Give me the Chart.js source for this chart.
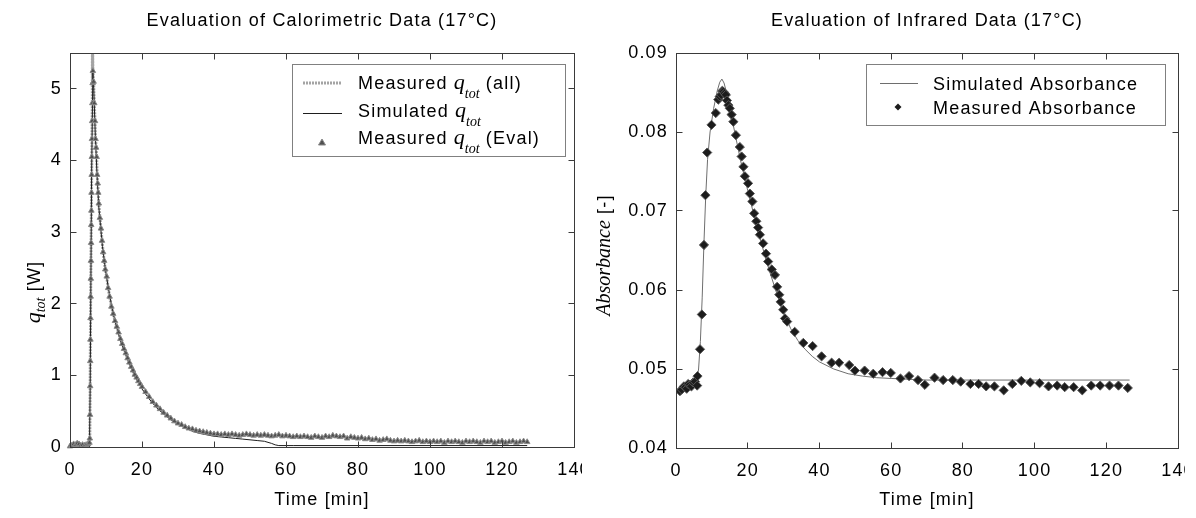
<!DOCTYPE html>
<html>
<head>
<meta charset="utf-8">
<script src="https://cdn.jsdelivr.net/npm/chart.js@4.4.1/dist/chart.umd.min.js"></script>
<style>
  html, body { margin: 0; padding: 0; background: #fff; width: 1196px; height: 518px; overflow: hidden; }
  .panel { position: absolute; top: 0; height: 518px; overflow: hidden; }
  #calPanel { left: 0; width: 582px; }
  #irPanel { left: 588px; width: 597px; }
</style>
</head>
<body>
<div class="panel" id="calPanel"><canvas id="calChart" width="584" height="518"></canvas></div>
<div class="panel" id="irPanel"><canvas id="irChart" width="598" height="518"></canvas></div>
<script>
// ---- axis ticks ----
const timeTicks = [0, 20, 40, 60, 80, 100, 120, 140];
const calTicks = [0, 1, 2, 3, 4, 5];
const irTicks = [0.04, 0.05, 0.06, 0.07, 0.08, 0.09];

// ---- calorimetric data: time [min], heat flow q_tot [W] ----
const calTime = [
  0, 0.5, 1, 1.5, 2, 2.5, 3, 3.5, 4, 4.5, 5, 5.4,
  5.5, 5.55, 5.6, 5.63, 5.67, 5.7, 5.74, 5.78, 5.82, 5.86,
  5.9, 5.94, 5.98, 6.02, 6.06, 6.1, 6.15, 6.2, 6.28, 6.35,
  6.55, 6.75, 6.95, 7.1, 7.25, 7.4, 7.55, 7.7, 7.85, 8.0,
  8.3, 8.6, 8.9, 9.2, 9.5, 9.8, 10.2, 10.6, 11, 11.5,
  12, 12.5, 13, 13.5, 14, 14.5, 15, 15.5, 16, 16.5,
  17, 17.5, 18, 18.5, 19, 19.5, 20,
  21, 22, 23, 24, 25, 26, 27, 28, 29, 30, 31, 32, 33, 34, 35, 36, 37, 38, 39,
  40, 41, 42, 43, 44, 45, 46, 47, 48, 49,
  50, 51, 52, 53, 54, 55, 56, 57, 58, 59,
  60, 61, 62, 63, 64, 65, 66, 67, 68, 69,
  70, 71, 72, 73, 74, 75, 76, 77, 78, 79,
  80, 81, 82, 83, 84, 85, 86, 87, 88, 89,
  90, 91, 92, 93, 94, 95, 96, 97, 98, 99,
  100, 101, 102, 103, 104, 105, 106, 107, 108, 109,
  110, 111, 112, 113, 114, 115, 116, 117, 118, 119,
  120, 121, 122, 123, 124, 125, 126, 127
];
const calMeasured = [
  0.01, 0.02, 0.04, 0.03, 0.05, 0.04, 0.02, 0.03, 0.02, 0.03, 0.04, 0.06,
  0.12, 0.45, 0.85, 1.2, 1.5, 1.8, 2.1, 2.35, 2.6, 2.85,
  3.1, 3.3, 3.55, 3.8, 4.05, 4.3, 4.55, 4.8, 5.08, 5.25,
  5.1, 4.8, 4.55, 4.3, 4.18, 4.05, 3.8, 3.68, 3.55, 3.4,
  3.2, 3.05, 2.88, 2.72, 2.6, 2.48, 2.38, 2.22, 2.1, 1.96,
  1.86, 1.76, 1.68, 1.6, 1.51, 1.44, 1.37, 1.31, 1.24, 1.18,
  1.12, 1.07, 1.01, 0.97, 0.92, 0.88, 0.84,
  0.77, 0.70, 0.63, 0.58, 0.53, 0.48, 0.44, 0.40, 0.36, 0.33, 0.31, 0.28, 0.26, 0.25, 0.23, 0.22, 0.21, 0.20, 0.19,
  0.18, 0.18, 0.17, 0.18, 0.17, 0.18, 0.17, 0.16, 0.17, 0.18,
  0.17, 0.16, 0.17, 0.16, 0.17, 0.16, 0.15, 0.16, 0.17, 0.15,
  0.16, 0.15, 0.14, 0.15, 0.14, 0.15, 0.14, 0.13, 0.15, 0.14,
  0.13, 0.15, 0.14, 0.16, 0.15, 0.14, 0.15, 0.12, 0.14, 0.13,
  0.12, 0.13, 0.11, 0.12, 0.10, 0.11, 0.09, 0.10, 0.11, 0.09,
  0.08, 0.09, 0.08, 0.09, 0.08, 0.07, 0.08, 0.09, 0.07, 0.08,
  0.07, 0.08, 0.07, 0.08, 0.06, 0.08, 0.07, 0.08, 0.07, 0.06,
  0.08, 0.07, 0.08, 0.07, 0.06, 0.08, 0.07, 0.08, 0.06, 0.07,
  0.08, 0.06, 0.07, 0.08, 0.06, 0.07, 0.08, 0.07
];
// raw samples at the heat-flow maximum that were not used for the evaluation
const calPeakTime = [6.22, 6.3];
const calPeakQ = [5.62, 5.48];

// simulated heat flow
const calSimTime = [0, 5.4, 5.6, 6.0, 6.35, 6.6, 7.0, 7.5, 8.0, 9, 10, 11, 12, 13, 14, 15, 16,
  18, 20, 22, 24, 26, 28, 30, 32, 34, 36, 38, 40, 42, 44, 46, 48, 50, 52, 54, 56,
  57, 58, 62, 70, 80, 90, 100, 110, 120, 127];
const calSimQ = [0.0, 0.0, 0.8, 3.8, 5.22, 5.0, 4.4, 3.8, 3.35, 2.8, 2.42, 2.12, 1.86, 1.66, 1.49, 1.35, 1.22,
  0.99, 0.81, 0.67, 0.55, 0.46, 0.38, 0.32, 0.27, 0.22, 0.19, 0.17, 0.15, 0.14, 0.13, 0.12, 0.11, 0.10, 0.09, 0.08, 0.05,
  0.03, 0.02, 0.02, 0.02, 0.02, 0.02, 0.02, 0.02, 0.02, 0.02];

// ---- infrared data: time [min], absorbance [-] ----
const irTime = [1.1, 1.6, 2.2, 2.6, 3.0, 3.4, 3.9, 4.3, 4.8, 5.3,
  5.9, 6.0, 6.7, 7.2, 7.8, 8.2, 8.7, 9.9, 11.1, 11.8,
  12.2, 12.6, 12.9, 13.2, 13.6, 13.9, 14.2, 14.6, 15.0, 15.5,
  16.0, 16.7, 17.8, 18.3, 18.8, 19.2, 20.1, 20.6, 21.3, 21.8,
  22.4, 22.9, 23.4, 24.3, 25.1, 25.7, 26.7, 27.6, 28.2, 28.8,
  29.2, 29.9, 30.4, 31.0, 33.1, 35.5, 38.1, 40.6, 43.4, 45.5,
  48.3, 49.9, 52.6, 55.0, 57.6, 59.9, 62.6, 65.0, 67.5, 69.4,
  72.1, 74.5, 77.2, 79.4, 82.1, 84.4, 86.5, 88.8, 91.4, 93.8,
  96.3, 98.8, 101.4, 103.9, 106.3, 108.4, 110.9, 113.3, 115.8, 118.3,
  120.9, 123.4, 126.0];
const irMeasured = [0.0472, 0.0474, 0.0478, 0.0477, 0.0475, 0.0481, 0.0480, 0.0478, 0.0483, 0.0484,
  0.0479, 0.0491, 0.0525, 0.0569, 0.0657, 0.0720, 0.0774, 0.0809, 0.0824, 0.0841,
  0.0845, 0.0847, 0.0852, 0.0851, 0.0849, 0.0847, 0.0840, 0.0834, 0.0830, 0.0822,
  0.0813, 0.0796, 0.0781, 0.0769, 0.0756, 0.0744, 0.0735, 0.0722, 0.0712, 0.0697,
  0.0687, 0.0679, 0.0670, 0.0659, 0.0646, 0.0636, 0.0626, 0.0619, 0.0604, 0.0594,
  0.0585, 0.0575, 0.0564, 0.0560, 0.0547, 0.0533, 0.0529, 0.0516, 0.0508, 0.0508,
  0.0505, 0.0498, 0.0498, 0.0494, 0.0496, 0.0495, 0.0488, 0.0491, 0.0486, 0.0480,
  0.0489, 0.0486, 0.0486, 0.0484, 0.0481, 0.0481, 0.0478, 0.0478, 0.0473, 0.0481,
  0.0485, 0.0483, 0.0482, 0.0478, 0.0479, 0.0477, 0.0477, 0.0473, 0.0479, 0.0479,
  0.0479, 0.0479, 0.0476];

const irSimTime = [1.0, 3, 5, 5.8, 6.3, 6.8, 7.3, 7.8, 8.3, 8.8,
  9.5, 10.5, 11.5, 12.2, 12.8, 13.4, 14.2, 15.2, 16.5, 18,
  20, 22, 24, 26, 28, 30, 32, 34, 36, 38,
  40, 44, 48, 52, 56, 60, 70, 80, 100, 126.5];
const irSimA = [0.0473, 0.0476, 0.0479, 0.0485, 0.0500, 0.0535, 0.0590, 0.0660, 0.0720, 0.0765,
  0.0800, 0.0830, 0.0852, 0.0863, 0.0867, 0.0862, 0.0848, 0.0826, 0.0797, 0.0764,
  0.0726, 0.0690, 0.0656, 0.0625, 0.0597, 0.0572, 0.0551, 0.0536, 0.0525, 0.0516,
  0.0509, 0.0500, 0.0494, 0.0491, 0.0489, 0.0488, 0.0486, 0.0486, 0.0486, 0.0486];

// ---- styling helpers ----
const SANS = '"Liberation Sans", Arial, Helvetica, sans-serif';
const SERIF = '"Liberation Serif", "Times New Roman", Times, serif';
const SPACING = '1.2px';

const pts = (xs, ys) => xs.map((x, i) => ({ x, y: ys[i] }));

// text pieces (mixed fonts, subscripts) along one baseline
function partsWidth(ctx, parts) {
  let w = 0;
  for (const p of parts) {
    ctx.font = p.font;
    ctx.letterSpacing = p.sp || '0px';
    w += ctx.measureText(p.text).width;
  }
  return w;
}
function drawParts(ctx, x, y, parts) {
  let cx = x;
  for (const p of parts) {
    ctx.font = p.font;
    ctx.letterSpacing = p.sp || '0px';
    ctx.fillText(p.text, cx, y + (p.dy || 0));
    cx += ctx.measureText(p.text).width;
  }
}
const sans = (t) => ({ text: t, font: '18px ' + SANS, sp: SPACING });
const ital = (t) => ({ text: t, font: 'italic 22px ' + SERIF });
const sub = (t, dy) => ({ text: t, font: 'italic 14px ' + SERIF, dy: dy });

const spacingPlugin = {
  id: 'spacing',
  beforeDraw(chart) { chart.ctx.letterSpacing = SPACING; }
};

// box outline with inward ticks on all four sides
function frameTicks(xTicks, yTicks) {
  return {
    id: 'frameTicks',
    afterDatasetsDraw(chart) {
      const { ctx, chartArea: a } = chart;
      const xs = chart.scales.x, ys = chart.scales.y;
      const L = Math.floor(a.left) + 0.5, R = Math.floor(a.right) + 0.5;
      const T = Math.floor(a.top) + 0.5, B = Math.floor(a.bottom) + 0.5;
      ctx.save();
      ctx.strokeStyle = '#3a3a3a';
      ctx.lineWidth = 1;
      ctx.strokeRect(L, T, R - L, B - T);
      ctx.beginPath();
      for (const v of xTicks) {
        const px = Math.floor(xs.getPixelForValue(v)) + 0.5;
        ctx.moveTo(px, B); ctx.lineTo(px, B - 6);
        ctx.moveTo(px, T); ctx.lineTo(px, T + 6);
      }
      for (const v of yTicks) {
        const py = Math.floor(ys.getPixelForValue(v)) + 0.5;
        ctx.moveTo(L, py); ctx.lineTo(L + 6, py);
        ctx.moveTo(R, py); ctx.lineTo(R - 6, py);
      }
      ctx.stroke();
      ctx.restore();
    }
  };
}

// rotated y-axis caption built from text pieces
function yCaption(cx, cy, parts) {
  return {
    id: 'yCaption',
    afterDraw(chart) {
      const ctx = chart.ctx;
      ctx.save();
      ctx.fillStyle = '#000';
      ctx.textBaseline = 'alphabetic';
      ctx.textAlign = 'left';
      ctx.translate(cx, cy);
      ctx.rotate(-Math.PI / 2);
      const w = partsWidth(ctx, parts);
      drawParts(ctx, -w / 2, 6, parts);
      ctx.restore();
    }
  };
}

// framed legend: rows of {sample, parts}
function boxLegend(box, rows) {
  return {
    id: 'boxLegend',
    afterDraw(chart) {
      const ctx = chart.ctx;
      ctx.save();
      ctx.fillStyle = '#fff';
      ctx.fillRect(box.x, box.y, box.w, box.h);
      ctx.strokeStyle = '#808080';
      ctx.lineWidth = 1;
      ctx.strokeRect(box.x + 0.5, box.y + 0.5, box.w, box.h);
      for (const r of rows) {
        r.sample(ctx, r.y);
        ctx.fillStyle = '#000';
        ctx.textAlign = 'left';
        ctx.textBaseline = 'alphabetic';
        drawParts(ctx, box.textX, r.y + 6.5, r.parts);
      }
      ctx.restore();
    }
  };
}

function xScale(axisHeight) {
  return {
    type: 'linear', min: 0, max: 140,
    afterBuildTicks: (s) => { s.ticks = timeTicks.map((v) => ({ value: v })); },
    afterFit: (s) => { s.height = axisHeight; s.paddingLeft = 0; s.paddingRight = 0; },
    grid: { display: false, drawTicks: false },
    border: { display: false },
    ticks: { padding: 12, color: '#000', font: { family: SANS, size: 18 }, maxRotation: 0, autoSkip: false },
    title: { display: true, text: 'Time [min]', color: '#000', font: { family: SANS, size: 18, lineHeight: 1.2 }, padding: { top: 0, bottom: 7 } }
  };
}
function yScale(min, max, tickVals, width, fmt) {
  return {
    type: 'linear', min, max,
    afterBuildTicks: (s) => { s.ticks = tickVals.map((v) => ({ value: v })); },
    afterFit: (s) => { s.width = width; s.paddingTop = 0; s.paddingBottom = 0; },
    grid: { display: false, drawTicks: false },
    border: { display: false },
    ticks: { padding: 8, color: '#000', font: { family: SANS, size: 18 }, autoSkip: false, callback: fmt }
  };
}
function titleOpts(text) {
  return {
    display: true, text, fullSize: false, color: '#000',
    font: { family: SANS, size: 18, weight: 'normal', lineHeight: 1.2 },
    padding: { top: 10, bottom: 21.4 }
  };
}

// ---- calorimetric chart ----
const calAll = pts(calTime, calMeasured).concat(pts(calPeakTime, calPeakQ)).sort((a, b) => a.x - b.x);

new Chart(document.getElementById('calChart'), {
  type: 'scatter',
  data: {
    datasets: [
      {
        label: 'Measured q_tot (all)', data: calAll, showLine: true,
        borderColor: '#a4a4a4', borderWidth: 3, borderDash: [2, 1], pointRadius: 0, clip: 0, order: 3
      },
      {
        label: 'Simulated q_tot', data: pts(calSimTime, calSimQ), showLine: true,
        borderColor: '#1e1e1e', borderWidth: 1, pointRadius: 0, clip: 0, order: 2
      },
      {
        label: 'Measured q_tot (Eval)', data: pts(calTime, calMeasured), showLine: false,
        pointStyle: 'triangle', pointRadius: 3.2, pointBackgroundColor: '#505050',
        pointBorderColor: '#8a8a8a', pointBorderWidth: 1,
        clip: { left: 6, right: 6, top: 0, bottom: 6 }, order: 1
      }
    ]
  },
  options: {
    responsive: false, animation: false, devicePixelRatio: 1,
    layout: { padding: { left: 0, right: 10, top: 0, bottom: 0 } },
    scales: {
      x: xScale(71),
      y: yScale(0, 5.5, calTicks, 70, (v) => String(v))
    },
    plugins: {
      legend: { display: false },
      tooltip: { enabled: false },
      title: titleOpts('Evaluation of Calorimetric Data (17°C)')
    }
  },
  plugins: [
    spacingPlugin,
    frameTicks(timeTicks, calTicks),
    yCaption(34, 292, [ital('q'), sub('tot', 5), sans(' [W]')]),
    boxLegend({ x: 292, y: 64, w: 273, h: 92, textX: 358 }, [
      {
        y: 82, parts: [sans('Measured '), ital('q'), sub('tot', 9), sans(' (all)')],
        sample: (ctx, y) => {
          ctx.strokeStyle = '#a4a4a4'; ctx.lineWidth = 3; ctx.setLineDash([2, 1]);
          ctx.beginPath(); ctx.moveTo(303, y + 1); ctx.lineTo(342, y + 1); ctx.stroke(); ctx.setLineDash([]);
        }
      },
      {
        y: 110, parts: [sans('Simulated '), ital('q'), sub('tot', 9)],
        sample: (ctx, y) => {
          ctx.strokeStyle = '#1e1e1e'; ctx.lineWidth = 1;
          ctx.beginPath(); ctx.moveTo(303, y + 3.5); ctx.lineTo(342, y + 3.5); ctx.stroke();
        }
      },
      {
        y: 137, parts: [sans('Measured '), ital('q'), sub('tot', 9), sans(' (Eval)')],
        sample: (ctx, y) => {
          ctx.fillStyle = '#505050'; ctx.strokeStyle = '#8a8a8a'; ctx.lineWidth = 1;
          ctx.beginPath(); ctx.moveTo(322, y + 2); ctx.lineTo(325.5, y + 8); ctx.lineTo(318.5, y + 8); ctx.closePath();
          ctx.fill(); ctx.stroke();
        }
      }
    ])
  ]
});

// ---- infrared chart ----
new Chart(document.getElementById('irChart'), {
  type: 'scatter',
  data: {
    datasets: [
      {
        label: 'Simulated Absorbance', data: pts(irSimTime, irSimA), showLine: true,
        borderColor: '#6e6e6e', borderWidth: 1, pointRadius: 0, clip: 0, order: 2
      },
      {
        label: 'Measured Absorbance', data: pts(irTime, irMeasured), showLine: false,
        pointStyle: 'rectRot', pointRadius: 4.6, pointBackgroundColor: '#1c1c1c',
        pointBorderColor: '#555', pointBorderWidth: 1, order: 1
      }
    ]
  },
  options: {
    responsive: false, animation: false, devicePixelRatio: 1,
    layout: { padding: { left: 0, right: 8, top: 0, bottom: 0 } },
    scales: {
      x: xScale(70),
      y: yScale(0.04, 0.09, irTicks, 88, (v) => v.toFixed(2))
    },
    plugins: {
      legend: { display: false },
      tooltip: { enabled: false },
      title: titleOpts('Evaluation of Infrared Data (17°C)')
    }
  },
  plugins: [
    spacingPlugin,
    frameTicks(timeTicks, irTicks),
    yCaption(16, 255, [{ text: 'Absorbance', font: 'italic 20px ' + SERIF }, sans(' [-]')]),
    boxLegend({ x: 278, y: 64, w: 299, h: 61, textX: 345 }, [
      {
        y: 83, parts: [sans('Simulated Absorbance')],
        sample: (ctx, y) => {
          ctx.strokeStyle = '#6e6e6e'; ctx.lineWidth = 1;
          ctx.beginPath(); ctx.moveTo(292, y + 0.5); ctx.lineTo(330, y + 0.5); ctx.stroke();
        }
      },
      {
        y: 107, parts: [sans('Measured Absorbance')],
        sample: (ctx, y) => {
          ctx.fillStyle = '#1c1c1c';
          ctx.beginPath(); ctx.moveTo(310, y - 3.5); ctx.lineTo(313.5, y); ctx.lineTo(310, y + 3.5); ctx.lineTo(306.5, y);
          ctx.closePath(); ctx.fill();
        }
      }
    ])
  ]
});
</script>
</body>
</html>
